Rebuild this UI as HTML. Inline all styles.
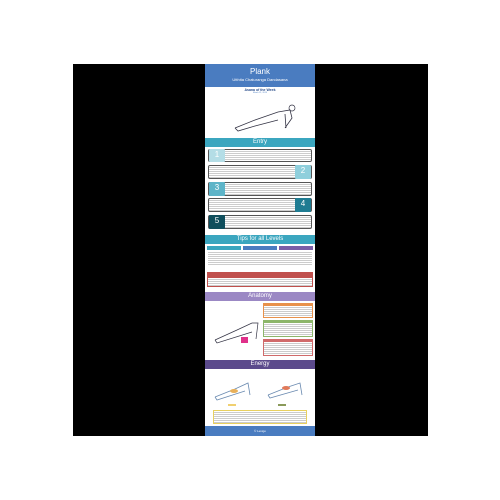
<!DOCTYPE html>
<html><head><meta charset="utf-8"><style>
*{margin:0;padding:0;box-sizing:border-box}
body{width:500px;height:500px;background:#fff;position:relative;overflow:hidden;font-family:"Liberation Sans",sans-serif}
.a{position:absolute}
.bar{position:absolute;left:205px;width:110px;color:#fff;text-align:center;font-size:6px;line-height:9px}
.box{position:absolute;border:1px solid #555;border-radius:2px;background:repeating-linear-gradient(#fff 0 1px,#ccc 1px 2px)}
.num{position:absolute;color:#fff;font-size:8px;text-align:center;line-height:12px;border-radius:1px}
.lines{background:repeating-linear-gradient(#fff 0 1px,#ccc 1px 2px)}
</style></head><body>
<div class="a" style="left:73px;top:64px;width:355px;height:372px;background:#000"></div>
<div class="a" style="left:205px;top:64px;width:110px;height:372px;background:#fff"></div>
<div class="a" style="left:205px;top:64px;width:110px;height:23px;background:#4a7cc0;color:#fff;text-align:center">
<div style="font-size:8px;line-height:11px;margin-top:2px">Plank</div>
<div style="font-size:4px;line-height:6px">Utthita Chaturanga Dandasana</div></div>
<div class="a" style="left:205px;top:88px;width:110px;text-align:center;color:#2c4f8c;font-size:3.5px;font-weight:bold">Asana of the Week</div>
<div class="a" style="left:205px;top:92px;width:110px;text-align:center;color:#4a7cc0;font-size:2px">March 21, 2019</div>
<svg class="a" style="left:230px;top:98px" width="70" height="38"><path d="M5 30 L25 22 L48 14 L60 12 L62 20 L55 30 M5 30 L8 33 L25 28 L48 22 M55 16 L56 30" stroke="#334" stroke-width="0.8" fill="none"/><circle cx="62" cy="10" r="3" stroke="#334" stroke-width="0.7" fill="none"/></svg>
<div class="bar" style="top:138px;background:#3ba6bf">Entry</div>
<div class="box" style="left:208px;top:149px;width:104px;height:13px"></div>
<div class="num" style="left:209px;top:149px;width:16px;height:13px;background:#b4dde6">1</div>
<div class="box" style="left:208px;top:165px;width:104px;height:14px"></div>
<div class="num" style="left:295px;top:165px;width:16px;height:14px;background:#8fcfdc">2</div>
<div class="box" style="left:208px;top:182px;width:104px;height:14px"></div>
<div class="num" style="left:209px;top:182px;width:16px;height:14px;background:#5db4c8">3</div>
<div class="box" style="left:208px;top:198px;width:104px;height:14px"></div>
<div class="num" style="left:295px;top:198px;width:16px;height:14px;background:#1f7c92">4</div>
<div class="box" style="left:208px;top:215px;width:104px;height:14px"></div>
<div class="num" style="left:209px;top:215px;width:16px;height:14px;background:#0f4e5c">5</div>
<div class="bar" style="top:235px;background:#3ba6bf">Tips for all Levels</div>
<div class="a" style="left:207px;top:246px;width:34px;height:4px;background:#3ba6bf"></div>
<div class="a" style="left:243px;top:246px;width:34px;height:4px;background:#4a7cc0"></div>
<div class="a" style="left:279px;top:246px;width:34px;height:4px;background:#7b5ea7"></div>
<div class="a lines" style="left:208px;top:251px;width:104px;height:14px"></div>
<div class="a" style="left:207px;top:272px;width:106px;height:5px;background:#c0504d"></div>
<div class="a lines" style="left:207px;top:277px;width:106px;height:10px;border:1px solid #c0504d"></div>
<div class="bar" style="top:292px;background:#9b88c4">Anatomy</div>
<svg class="a" style="left:212px;top:315px" width="50" height="35"><path d="M3 25 L25 15 L40 8 L46 8 L44 24 M3 25 L5 28 L40 17" stroke="#334" stroke-width="0.7" fill="none"/><rect x="29" y="22" width="7" height="6" fill="#e0308a"/></svg>
<div class="a lines" style="left:263px;top:303px;width:50px;height:15px;border:1px solid #e8914a;border-top:3px solid #e8914a"></div>
<div class="a lines" style="left:263px;top:320px;width:50px;height:17px;border:1px solid #8db66a;border-top:3px solid #8db66a"></div>
<div class="a lines" style="left:263px;top:339px;width:50px;height:17px;border:1px solid #d06a6a;border-top:3px solid #d06a6a"></div>
<div class="bar" style="top:360px;background:#5b4a8c">Energy</div>
<svg class="a" style="left:210px;top:375px" width="100" height="32"><path d="M5 22 L25 14 L38 8 L40 20 M5 22 L7 25 L35 16 M58 20 L78 12 L90 8 L92 20 M58 20 L60 23 L88 15" stroke="#6a8ab0" stroke-width="0.8" fill="none"/><ellipse cx="24" cy="16" rx="4" ry="2" fill="#e8b05a"/><ellipse cx="76" cy="13" rx="4" ry="2" fill="#e07a5a"/><rect x="18" y="29" width="8" height="2" fill="#f0d070"/><rect x="68" y="29" width="8" height="2" fill="#8a9a5a"/></svg>
<div class="a lines" style="left:213px;top:410px;width:94px;height:14px;border:1px solid #e8d060"></div>
<div class="a" style="left:205px;top:426px;width:110px;height:10px;background:#4a7cc0;color:#fff;font-size:3px;text-align:center;line-height:10px">© Lexigo</div>
</body></html>
